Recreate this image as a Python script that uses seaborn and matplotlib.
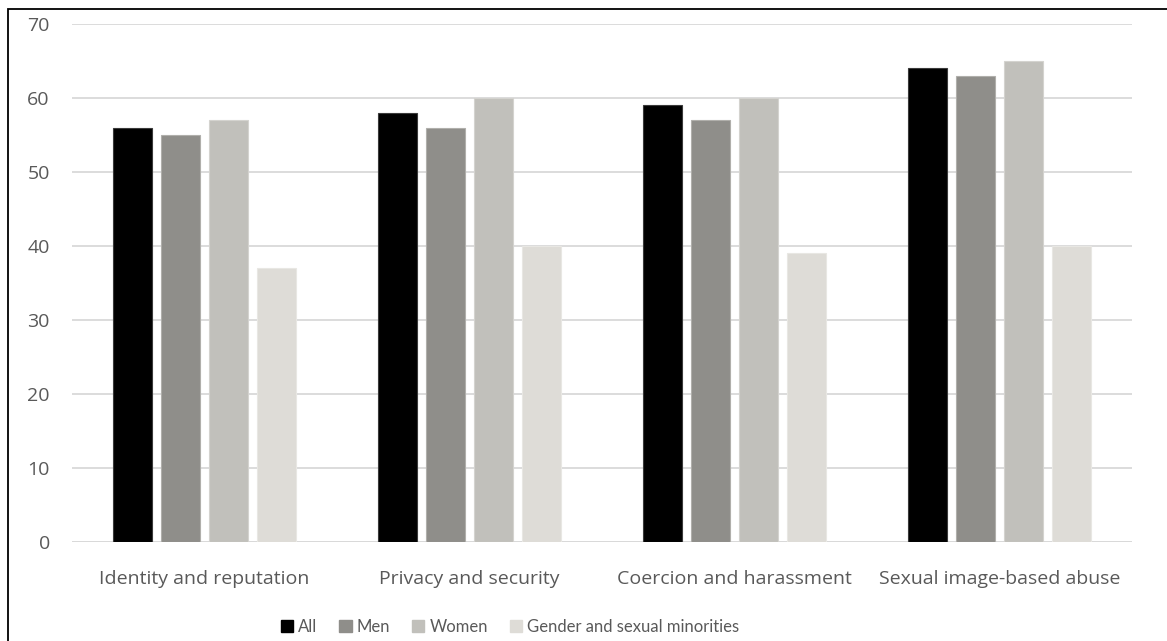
import matplotlib
matplotlib.use("Agg")
import matplotlib.pyplot as plt
import seaborn as sns
import pandas as pd
from matplotlib.patches import Rectangle, Patch

categories = ["Identity and reputation", "Privacy and security",
              "Coercion and harassment", "Sexual image-based abuse"]
groups = ["All", "Men", "Women", "Gender and sexual minorities"]
all_vals = [56, 58, 59, 64]
men_vals = [55, 56, 57, 63]
women_vals = [57, 60, 60, 65]
gsm_vals = [37, 40, 39, 40]
colors = ["#000000", "#8f8e8a", "#c1c0bb", "#dedcd7"]
edges = ["#3a3a3a", "#b0afab", "#d4d3cf", "#e8e7e3"]
yticks = [0, 10, 20, 30, 40, 50, 60, 70]

rows = []
for g, vals in zip(groups, [all_vals, men_vals, women_vals, gsm_vals]):
    for c, v in zip(categories, vals):
        rows.append({"category": c, "group": g, "value": v})
df = pd.DataFrame(rows)

sns.set_theme(style="white")
plt.rcParams["font.family"] = ["Open Sans", "DejaVu Sans"]

fig = plt.figure(figsize=(11.67, 6.41), dpi=100)
ax = fig.add_axes([72 / 1167, 99 / 641, 1060 / 1167, 518 / 641])

sns.barplot(data=df, x="category", y="value", hue="group", order=categories,
            hue_order=groups, palette=colors, width=0.725, gap=0.2,
            ax=ax, legend=False, saturation=1)

for container, ec in zip(ax.containers, edges):
    for bar in container:
        bar.set_edgecolor(ec)
        bar.set_linewidth(0.8)

ax.set_ylim(0, 70)
ax.set_xlim(-0.5, 3.5)
ax.set_yticks(yticks)
ax.yaxis.grid(True, color="#d9d9d9", linewidth=1.3)
ax.set_axisbelow(True)
for s in ax.spines.values():
    s.set_visible(False)
ax.axhline(0, color="#d9d9d9", linewidth=1.3, zorder=0.5)
ax.set_xlabel("")
ax.set_ylabel("")
ax.tick_params(axis="y", length=0, pad=16, labelsize=14, labelcolor="#595959")
ax.tick_params(axis="x", length=0, pad=20, labelsize=14, labelcolor="#595959")

handles = [Patch(facecolor=c, edgecolor=c) for c in colors]
fig.legend(handles, groups, loc="center", bbox_to_anchor=(510 / 1167, 14 / 641),
           ncol=4, frameon=False, handlelength=0.75, handleheight=0.75,
           handletextpad=0.3, columnspacing=1.3, labelcolor="#595959",
           prop={"family": ["Lato", "DejaVu Sans"], "size": 12})

# outer chart frame
fig.patches.append(Rectangle((8 / 1167, -0.1), 1.2, (641 - 9) / 641 + 0.1,
                             transform=fig.transFigure, fill=False,
                             edgecolor="#000000", linewidth=1.3))

fig.savefig("out.png", dpi=100)
